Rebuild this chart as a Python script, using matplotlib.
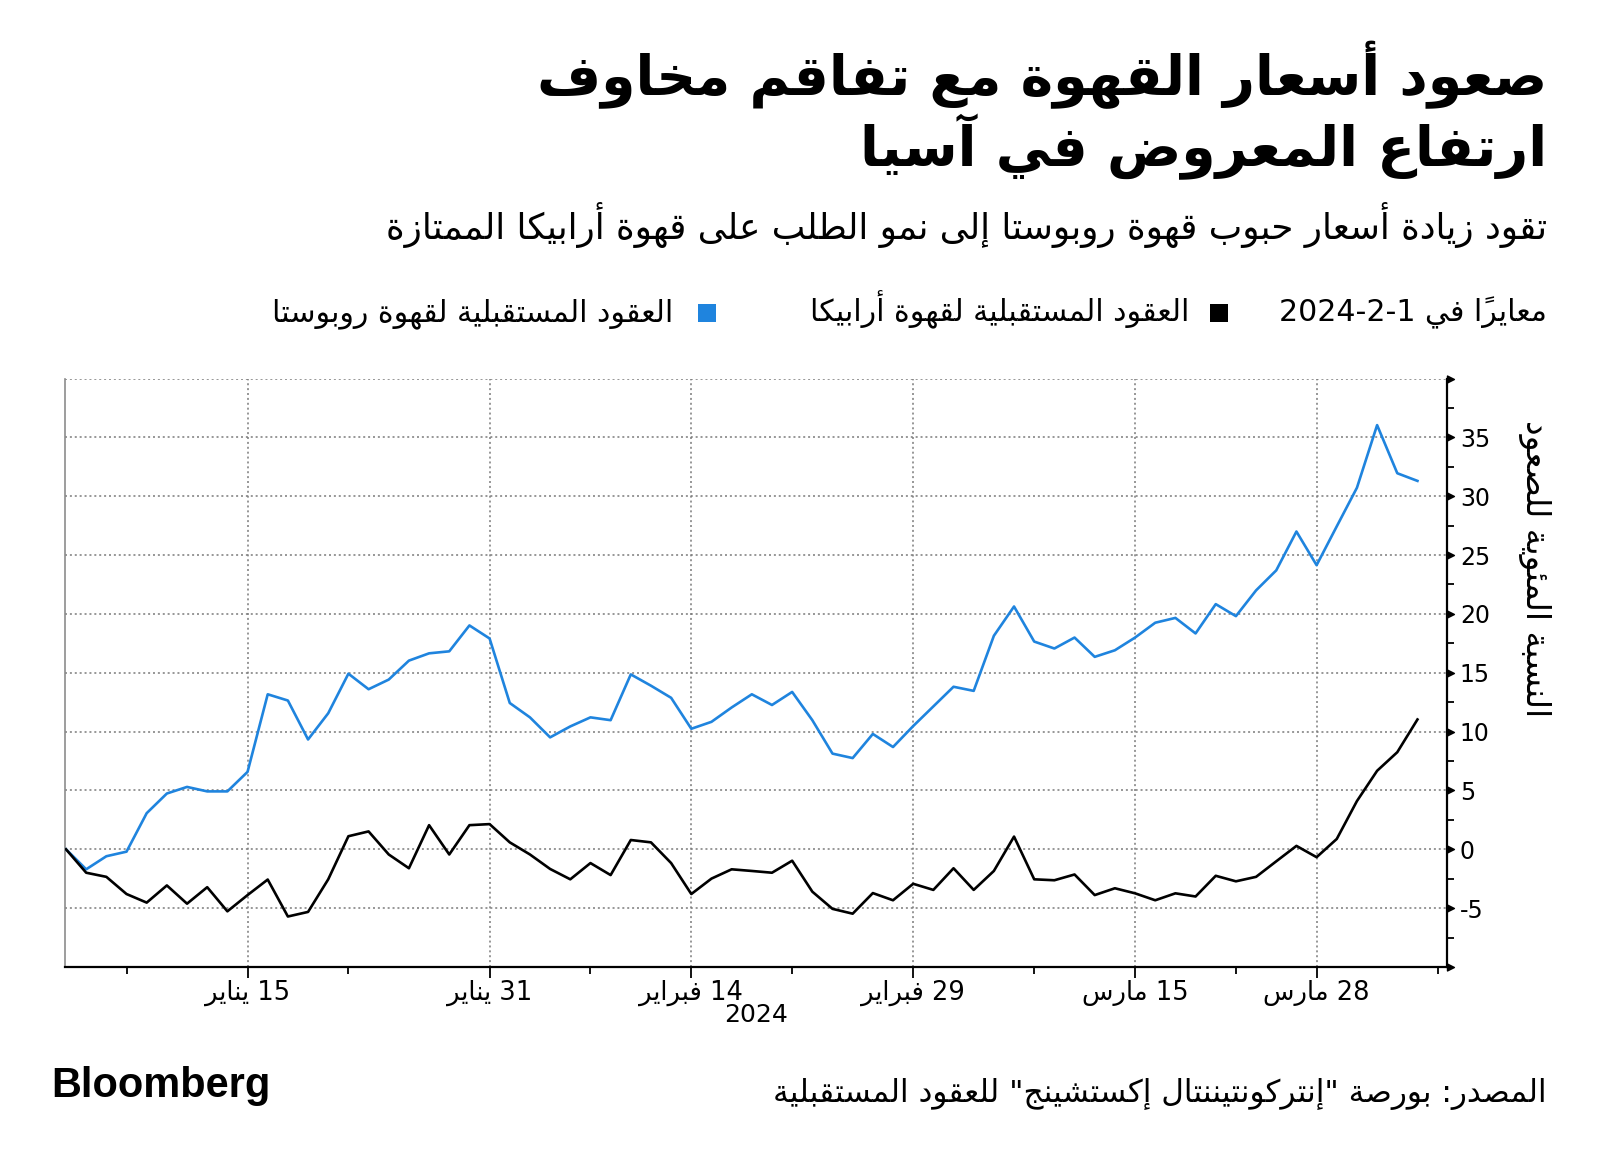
import numpy as np
import matplotlib
matplotlib.use('Agg')
import matplotlib.pyplot as plt
from matplotlib.patches import Rectangle
from matplotlib.path import Path

# ---------------- data ----------------
robusta = [0, -1.70, -0.59, -0.20, 3.07, 4.74, 5.30, 4.92, 4.92, 6.58,
           13.17, 12.64, 9.33, 11.56, 14.92, 13.60, 14.42, 16.03, 16.65, 16.82,
           19.02, 17.91, 12.43,
           11.21, 9.51, 10.44, 11.21, 10.97, 14.86, 13.90, 12.87, 10.24, 10.83,
           12.05, 13.17, 12.26, 13.37, 10.97, 8.13, 7.75, 9.80, 8.69, 10.47,
           12.14, 13.81,
           13.46, 18.14, 20.63, 17.65, 17.06, 17.99, 16.35, 16.91, 17.99, 19.25,
           19.66, 18.34, 20.83, 19.81, 22.00, 23.70, 27.00, 24.14, 27.44, 30.72,
           36.04, 31.95, 31.30]
arabica = [0, -1.99, -2.34, -3.80, -4.53, -3.07, -4.62, -3.22, -5.27, -3.89,
           -2.57, -5.71, -5.32, -2.55, 1.11, 1.52, -0.44, -1.61, 2.05, -0.44,
           2.05, 2.14, 0.59,
           -0.44, -1.67, -2.55, -1.17, -2.19, 0.79, 0.59, -1.17, -3.80, -2.49,
           -1.70, -1.84, -1.99, -0.97, -3.60, -5.06, -5.47, -3.72, -4.33, -2.93,
           -3.45, -1.61,
           -3.45, -1.84, 1.08, -2.55, -2.63, -2.14, -3.89, -3.31, -3.74, -4.33,
           -3.74, -4.01, -2.25, -2.72, -2.34, -1.02, 0.29, -0.67, 0.88, 4.10,
           6.67, 8.25, 11.03]
# trading-day positions of labelled dates (index 0 = 2 Jan 2024)
tick_pos = [9, 21, 31, 42, 53, 62]
tick_labels = ['15 يناير', '31 يناير', '14 فبراير', '29 فبراير', '15 مارس', '28 مارس']
minor_pos = [3, 14, 26, 36, 48, 58, 68]
ytick_vals = [-10, -5, 0, 5, 10, 15, 20, 25, 30, 35, 40]
ytick_labels = ['', '-5', '0', '5', '10', '15', '20', '25', '30', '35', '']
year_label = '2024'

title_l1 = 'صعود أسعار القهوة مع تفاقم مخاوف'
title_l2 = 'ارتفاع المعروض في آسيا'
subtitle = 'تقود زيادة أسعار حبوب قهوة روبوستا إلى نمو الطلب على قهوة أرابيكا الممتازة'
leg_note = 'معايراً في 1-2-2024'
leg_arabica = 'العقود المستقبلية لقهوة أرابيكا'
leg_robusta = 'العقود المستقبلية لقهوة روبوستا'
ylabel = 'النسبة المئوية للصعود'
source = 'المصدر: بورصة "إنتركونتيننتال إكستشينج" للعقود المستقبلية'

BLUE = '#1f84de'
BLACK = '#000000'

# ---------------- Arabic shaping (presentation forms + RTL order) ----------------
DUAL = {'ئ': 0xFE89, 'ب': 0xFE8F, 'ت': 0xFE95, 'ث': 0xFE99, 'ج': 0xFE9D, 'ح': 0xFEA1,
        'خ': 0xFEA5, 'س': 0xFEB1, 'ش': 0xFEB5, 'ص': 0xFEB9, 'ض': 0xFEBD, 'ط': 0xFEC1,
        'ظ': 0xFEC5, 'ع': 0xFEC9, 'غ': 0xFECD, 'ف': 0xFED1, 'ق': 0xFED5, 'ك': 0xFED9,
        'ل': 0xFEDD, 'م': 0xFEE1, 'ن': 0xFEE5, 'ه': 0xFEE9, 'ي': 0xFEF1}
RIGHT = {'آ': 0xFE81, 'أ': 0xFE83, 'ؤ': 0xFE85, 'إ': 0xFE87, 'ا': 0xFE8D, 'ة': 0xFE93,
         'د': 0xFEA9, 'ذ': 0xFEAB, 'ر': 0xFEAD, 'ز': 0xFEAF, 'و': 0xFEED, 'ى': 0xFEEF}
LAMALEF = {'آ': 0xFEF5, 'أ': 0xFEF7, 'إ': 0xFEF9, 'ا': 0xFEFB}
ISO = {'ء': 0xFE80}


def ar(text):
    items = []
    for ch in text:
        if '\u064B' <= ch <= '\u0652' and items:
            items[-1][1] += ch
        else:
            items.append([ch, ''])
    merged = []
    i = 0
    while i < len(items):
        c, m = items[i]
        if c == 'ل' and i + 1 < len(items) and items[i + 1][0] in LAMALEF:
            merged.append(['L' + items[i + 1][0], m + items[i + 1][1]])
            i += 2
        else:
            merged.append([c, m])
            i += 1

    def jt(c):
        if len(c) > 1 or c in RIGHT:
            return 'R'
        if c in DUAL:
            return 'D'
        return None

    glyphs = []
    for k, (c, m) in enumerate(merged):
        t = jt(c)
        if t is None:
            g = chr(ISO[c]) if c in ISO else c
            glyphs.append((g + m, c.isdigit()))
            continue
        prev = merged[k - 1][0] if k > 0 else None
        nxt = merged[k + 1][0] if k + 1 < len(merged) else None
        jp = prev is not None and jt(prev) == 'D'
        jn = t == 'D' and nxt is not None and jt(nxt) is not None
        if len(c) > 1:
            g = LAMALEF[c[1]] + (1 if jp else 0)
        elif t == 'R':
            g = RIGHT[c] + (1 if jp else 0)
        else:
            g = DUAL[c] + (3 if (jp and jn) else 1 if jp else 2 if jn else 0)
        glyphs.append((chr(g) + m, False))
    tokens = []
    for g, isd in glyphs:
        if isd and tokens and tokens[-1][1]:
            tokens[-1][0] += g
        else:
            tokens.append([g, isd])
    return ''.join(t[0] for t in reversed(tokens))


# ---------------- figure ----------------
plt.rcParams['font.family'] = ['DejaVu Sans']
W, H = 1600, 1163
fig = plt.figure(figsize=(W / 100, H / 100), dpi=100)
ax_l, ax_r, ax_t, ax_b = 64.6, 1446.7, 378.5, 967.0
ax = fig.add_axes([ax_l / W, 1 - ax_b / H, (ax_r - ax_l) / W, (ax_b - ax_t) / H])

x = np.arange(len(robusta))
ax.plot(x, robusta, color=BLUE, lw=1.9, zorder=3)
ax.plot(x, arabica, color=BLACK, lw=1.9, zorder=3)

ax.set_xlim(-0.07, 68.45)
ax.set_ylim(-10, 40)

# grid
grid_kw = dict(color='#7a7a7a', lw=1.1, ls=(0, (1.3, 1.9)))
ax.set_yticks(ytick_vals)
ax.set_yticklabels(ytick_labels)
ax.set_yticks(np.arange(-7.5, 40, 5), minor=True)
ax.set_xticks(tick_pos)
ax.set_xticklabels([ar(t) for t in tick_labels], fontsize=18.5)
ax.set_xticks(minor_pos, minor=True)
ax.grid(True, which='major', **grid_kw)
ax.set_axisbelow(True)

ax.yaxis.tick_right()
ax.tick_params(axis='y', which='major', length=0, pad=9.5, labelsize=17, right=True, left=False)
ax.tick_params(axis='y', which='minor', length=5, width=1.3, direction='out', right=True, left=False)
ax.tick_params(axis='x', which='major', length=8, width=1.3, pad=1, direction='out')
ax.tick_params(axis='x', which='minor', length=5, width=1.3, direction='out')

ax.spines['top'].set_visible(False)
ax.spines['left'].set_color('#8c8c8c')
ax.spines['left'].set_linewidth(1.2)
ax.spines['right'].set_color('black')
ax.spines['right'].set_linewidth(1.6)
ax.spines['bottom'].set_color('black')
ax.spines['bottom'].set_linewidth(1.6)

# triangle major ticks on the right axis
tri = Path([(0, -0.5), (1, 0), (0, 0.5), (0, -0.5)],
           [Path.MOVETO, Path.LINETO, Path.LINETO, Path.CLOSEPOLY])
ax.plot(np.ones(len(ytick_vals)), ytick_vals, ls='none', marker=tri, ms=10,
        color='black', transform=ax.get_yaxis_transform(), clip_on=False, zorder=5)

fig.text((ax_l + ax_r) / 2 / W, 1 - 1015 / H, year_label, ha='center', va='center', fontsize=18)

# ---------------- texts ----------------
fig.canvas.draw()
r = fig.canvas.get_renderer()


def fit_w(t, width):
    bb = t.get_window_extent(renderer=r)
    t.set_fontsize(t.get_fontsize() * width / bb.width)


def fit_h(t, height):
    bb = t.get_window_extent(renderer=r)
    t.set_fontsize(t.get_fontsize() * height / bb.height)


t1 = fig.text(1547 / W, 1 - 95 / H, ar(title_l1), ha='right', va='baseline',
              fontsize=40, fontweight='bold')
fit_w(t1, 1009)
t2 = fig.text(1547 / W, 1 - 166 / H, ar(title_l2), ha='right', va='baseline',
              fontsize=t1.get_fontsize(), fontweight='bold')
st = fig.text(1547 / W, 1 - 239 / H, ar(subtitle), ha='right', va='baseline', fontsize=24)
fit_w(st, 1169)

l1 = fig.text(1547 / W, 1 - 321 / H, ar(leg_note), ha='right', va='baseline', fontsize=20)
fit_w(l1, 268)
lfs = l1.get_fontsize()
fig.add_artist(Rectangle((1210 / W, 1 - 322 / H), 18 / W, 18 / H, transform=fig.transFigure,
                         facecolor=BLACK, edgecolor='none'))
fig.text(1189 / W, 1 - 321 / H, ar(leg_arabica), ha='right', va='baseline', fontsize=lfs)
fig.add_artist(Rectangle((698 / W, 1 - 322 / H), 18 / W, 18 / H, transform=fig.transFigure,
                         facecolor=BLUE, edgecolor='none'))
fig.text(673 / W, 1 - 321 / H, ar(leg_robusta), ha='right', va='baseline', fontsize=lfs)

yl = fig.text(1535 / W, 1 - 569 / H, ar(ylabel), rotation=270, ha='center', va='center', fontsize=20)
fit_h(yl, 296)

src = fig.text(1547 / W, 1 - 1102 / H, ar(source), ha='right', va='baseline', fontsize=20)
fit_w(src, 771)
bl = fig.text(51 / W, 1 - 1097 / H, 'Bloomberg', ha='left', va='baseline', fontsize=30,
              fontweight='bold', family=['Liberation Sans', 'DejaVu Sans'])
fit_w(bl, 219)

fig.savefig('out.png', dpi=100)
